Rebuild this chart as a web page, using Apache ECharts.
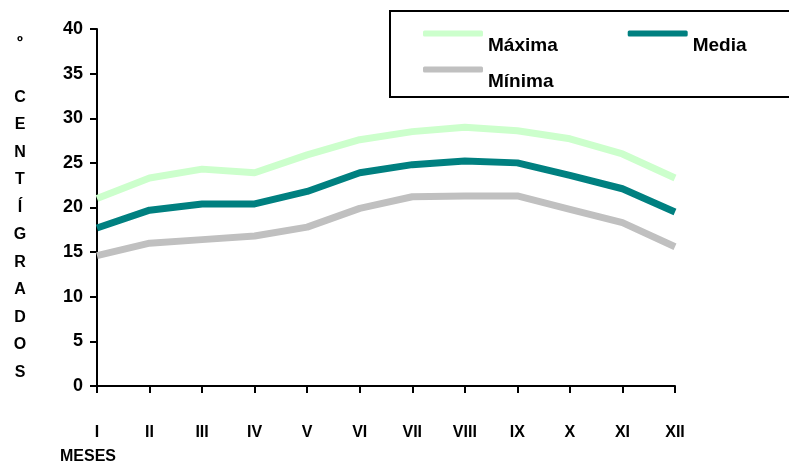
<!DOCTYPE html>
<html>
<head>
<meta charset="utf-8">
<script src="https://cdn.jsdelivr.net/npm/echarts@6/dist/echarts.min.js"></script>
<style>html,body{margin:0;padding:0;background:#fff;}#c{width:789px;height:468px;}</style>
</head>
<body>
<div id="c"></div>
<script>
const months = ['I','II','III','IV','V','VI','VII','VIII','IX','X','XI','XII'];
const maxima = [21.0, 23.3, 24.3, 23.9, 25.9, 27.6, 28.5, 29.0, 28.6, 27.7, 26.0, 23.3];
const media  = [17.7, 19.7, 20.4, 20.4, 21.8, 23.9, 24.8, 25.2, 25.0, 23.6, 22.1, 19.5];
const minima = [14.6, 16.0, 16.4, 16.8, 17.8, 19.9, 21.2, 21.3, 21.3, 19.8, 18.3, 15.6];
const yTicks = {min: 0, max: 40, interval: 5};
const yName = 'º\n\nC\nE\nN\nT\nÍ\nG\nR\nA\nD\nO\nS';
const xName = 'MESES';

const FONT = 'Liberation Sans, Arial, sans-serif';
const chart = echarts.init(document.getElementById('c'));
const legendText = {
  fontFamily: FONT, fontWeight: 'bold', fontSize: 19, color: '#000',
  rich: {t: {fontFamily: FONT, fontWeight: 'bold', fontSize: 19, color: '#000', lineHeight: 20, padding: [24, 0, 0, 0]}}
};
chart.setOption({
  animation: false,
  backgroundColor: '#fff',
  grid: {left: 97, right: 114, top: 29, bottom: 82, containLabel: false},
  graphic: [
    {type: 'rect', shape: {x: 390, y: 11, width: 420, height: 86}, style: {fill: '#fff', stroke: '#000', lineWidth: 2}, z: -1},
    {type: 'text', left: 60, top: 449, style: {text: xName, fontFamily: FONT, fontWeight: 'bold', fontSize: 16, fill: '#000'}}
  ],
  legend: [
    {data: ['Máxima', 'Media'], formatter: '{t|{name}}', left: 423, top: 12, padding: 0, itemGap: 70, itemWidth: 60, itemHeight: 6, icon: 'roundRect', textStyle: legendText, selectedMode: false},
    {data: ['Mínima'], formatter: '{t|{name}}', left: 423, top: 48, padding: 0, itemWidth: 60, itemHeight: 6, icon: 'roundRect', textStyle: legendText, selectedMode: false}
  ],
  xAxis: {
    type: 'category', data: months, boundaryGap: false,
    axisLine: {lineStyle: {color: '#000', width: 2}},
    axisTick: {show: true, length: 7, lineStyle: {color: '#000', width: 2}},
    axisLabel: {color: '#000', fontFamily: FONT, fontWeight: 'bold', fontSize: 16, margin: 39, verticalAlign: 'top'},
    splitLine: {show: false}
  },
  yAxis: {
    type: 'value', min: yTicks.min, max: yTicks.max, interval: yTicks.interval,
    name: yName, nameLocation: 'middle', nameRotate: 0, nameGap: 77,
    nameTextStyle: {color: '#000', fontFamily: FONT, fontWeight: 'bold', fontSize: 16, lineHeight: 27.5, align: 'center', verticalAlign: 'middle'},
    axisLine: {show: true, lineStyle: {color: '#000', width: 2}},
    axisTick: {show: true, length: 7, lineStyle: {color: '#000', width: 2}},
    axisLabel: {color: '#000', fontFamily: FONT, fontWeight: 'bold', fontSize: 18, margin: 14},
    splitLine: {show: false}
  },
  series: [
    {name: 'Máxima', type: 'line', data: maxima, showSymbol: false, symbol: 'none', lineStyle: {color: '#CCFFCC', width: 7}, itemStyle: {color: '#CCFFCC'}},
    {name: 'Media', type: 'line', data: media, showSymbol: false, symbol: 'none', lineStyle: {color: '#008080', width: 7}, itemStyle: {color: '#008080'}},
    {name: 'Mínima', type: 'line', data: minima, showSymbol: false, symbol: 'none', lineStyle: {color: '#C0C0C0', width: 7}, itemStyle: {color: '#C0C0C0'}}
  ]
});
</script>
</body>
</html>
